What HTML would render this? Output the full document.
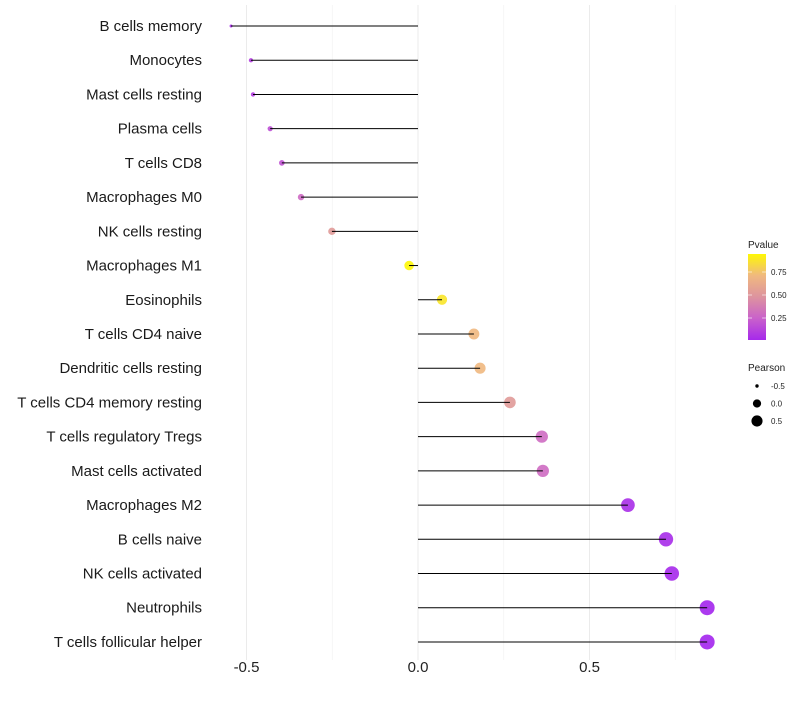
<!DOCTYPE html>
<html><head><meta charset="utf-8"><style>
body{margin:0;background:#fff;font-family:"Liberation Sans",sans-serif;}
</style></head><body>
<svg id="chart" width="800" height="700" xmlns="http://www.w3.org/2000/svg" font-family="Liberation Sans, sans-serif"></svg>
<script>
const categories=["B cells memory","Monocytes","Mast cells resting","Plasma cells","T cells CD8","Macrophages M0","NK cells resting","Macrophages M1","Eosinophils","T cells CD4 naive","Dendritic cells resting","T cells CD4 memory resting","T cells regulatory  Tregs ","Mast cells activated","Macrophages M2","B cells naive","NK cells activated","Neutrophils","T cells follicular helper"];
const pearson=[-0.545,-0.487,-0.481,-0.431,-0.397,-0.341,-0.251,-0.026,0.07,0.163,0.181,0.268,0.361,0.364,0.612,0.723,0.74,0.843,0.843];
const pvalue=[0.05,0.12,0.12,0.2,0.22,0.32,0.55,0.99,0.92,0.75,0.75,0.55,0.33,0.33,0.06,0.05,0.04,0.02,0.02];
const xTicks=[-0.5,0,0.5];
const xTickLabels=["-0.5","0.0","0.5"];
const pTicks=[0.25,0.5,0.75];
const sizeTicks=[-0.5,0,0.5];

const svg=document.getElementById('chart');
const NS="http://www.w3.org/2000/svg";
function mk(tag,attrs,parent){const e=document.createElementNS(NS,tag);for(const k in attrs)e.setAttribute(k,attrs[k]);(parent||svg).appendChild(e);return e;}
const x=v=>418+v*343;
const y=i=>26+i*34.22;
const r=v=>Math.sqrt(Math.max(0.5,23.45+38.9*v));
const stops=[[0,[160,32,240]],[0.3,[204,102,200]],[0.55,[224,154,152]],[0.75,[240,184,128]],[1,[255,250,0]]];
function color(p){for(let k=1;k<stops.length;k++){if(p<=stops[k][0]){const a=stops[k-1],b=stops[k];const t=(p-a[0])/(b[0]-a[0]);const c=a[1].map((v,i)=>Math.round(v+(b[1][i]-v)*t));return `rgb(${c.join(',')})`;}}return 'rgb(255,250,0)';}

[-0.25,0.25,0.75].forEach(v=>{const g=mk('line',{x1:x(v),x2:x(v),y1:5,y2:660,stroke:'#f0f0f0','stroke-width':0.6});

});
xTicks.forEach((v,i)=>{const g=mk('line',{x1:x(v),x2:x(v),y1:5,y2:660,stroke:'#ebebeb','stroke-width':1});


const t=mk('text',{x:x(v),y:672,'text-anchor':'middle','font-size':15,fill:'#222'});t.textContent=xTickLabels[i];

});

categories.forEach((c,i)=>{
const t=mk('text',{x:202,y:y(i)+5,'text-anchor':'end','font-size':15,fill:'#1a1a1a'});t.textContent=c;


const p=mk('circle',{cx:x(pearson[i]),cy:y(i),r:r(pearson[i]),fill:color(pvalue[i]),'fill-opacity':0.9});


const l=mk('line',{x1:x(0),x2:x(pearson[i]),y1:y(i),y2:y(i),stroke:'#000','stroke-width':1});


});

const defs=mk('defs',{});
const gr=mk('linearGradient',{id:'pg',x1:0,y1:1,x2:0,y2:0},defs);
[0,0.25,0.5,0.75,1].forEach(o=>mk('stop',{offset:o,'stop-color':color(0.04+o*0.95)},gr));
const lt=mk('text',{x:748,y:248,'font-size':10,fill:'#222'});lt.textContent='Pvalue';


const bar=mk('rect',{x:748,y:254,width:18,height:86,fill:'url(#pg)'});


pTicks.forEach(p=>{const yy=341-p*92;
mk('line',{x1:748,x2:752,y1:yy,y2:yy,stroke:'#fff','stroke-width':0.6});
mk('line',{x1:762,x2:766,y1:yy,y2:yy,stroke:'#fff','stroke-width':0.6});
const t=mk('text',{x:771,y:yy+3,'font-size':8,fill:'#222'});t.textContent=p.toFixed(2);

});

const st=mk('text',{x:748,y:371,'font-size':10,fill:'#222'});st.textContent='Pearson';


sizeTicks.forEach((v,i)=>{const yy=386+i*17.5;
const c=mk('circle',{cx:757,cy:yy,r:r(v)*0.85,fill:'#000'});


const t=mk('text',{x:771,y:yy+3,'font-size':8,fill:'#222'});t.textContent=v.toFixed(1);

});
</script>
</body></html>
